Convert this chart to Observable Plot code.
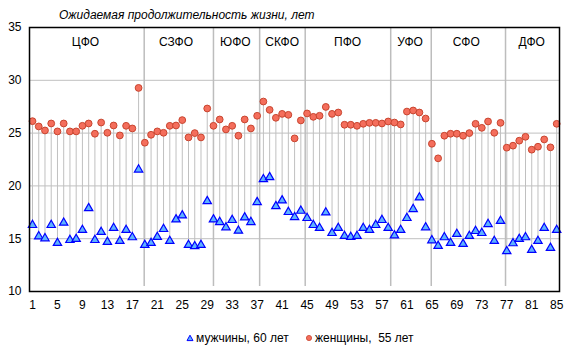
<!DOCTYPE html>
<html><head><meta charset="utf-8">
<script src="https://cdn.jsdelivr.net/npm/d3@7"></script>
<script src="https://cdn.jsdelivr.net/npm/@observablehq/plot@0.6"></script>
<style>
body{margin:0;background:#fff;font-family:"Liberation Sans",Arial,sans-serif;color:#000;}
#wrap{position:relative;width:575px;height:357px;overflow:hidden;}
#title{position:absolute;left:59px;top:8px;font-size:12px;font-style:italic;white-space:nowrap;}
#chart{position:absolute;left:0;top:0;}
.leg{position:absolute;top:331px;font-size:12px;white-space:pre;display:flex;align-items:center;}
.leg span{white-space:pre;}
.leg svg{margin-right:2px;}
</style>
</head><body>
<div id="wrap">
  <div id="chart"></div>
  <div id="title">Ожидаемая продолжительность жизни, лет</div>
  <div class="leg" id="legMen" style="left:186px"></div>
  <div class="leg" id="legWomen" style="left:305px"></div>
</div>
<script>
const regionNo = d3.range(1, 86);
const men = [16.29,15.22,15.03,16.29,14.59,16.51,14.87,14.97,15.82,17.89,
  14.87,15.63,14.69,16.01,14.78,15.82,15.13,21.54,14.40,14.59,
  15.16,15.91,14.78,16.82,17.20,14.40,14.28,14.40,18.55,16.82,
  16.57,16.07,16.76,15.75,17.01,16.57,18.46,20.63,20.82,18.08,
  18.62,17.52,17.04,17.64,16.95,16.29,16.01,17.48,15.53,16.01,
  15.25,15.16,15.25,16.01,15.82,16.29,16.76,16.01,15.31,15.82,
  16.95,17.80,18.90,16.07,14.84,14.31,15.13,14.59,15.44,14.50,
  15.25,15.72,15.53,16.38,14.78,16.67,13.81,14.56,14.97,15.13,
  13.93,14.78,16.01,14.12,15.82];
const women = [26.13,25.63,25.25,25.91,25.16,25.91,25.16,25.16,25.69,25.91,
  24.94,26.00,25.03,25.72,24.78,25.69,25.44,29.28,24.09,24.84,
  25.16,25.03,25.69,25.72,26.23,24.59,25.00,24.59,27.33,25.69,
  26.29,25.35,25.69,24.75,26.29,25.44,26.64,27.99,27.20,26.45,
  26.82,26.73,24.50,26.20,26.86,26.54,26.64,27.48,26.82,26.95,
  25.79,25.79,25.69,25.88,25.97,25.97,25.91,26.10,26.00,25.82,
  27.04,27.14,26.95,26.38,23.99,22.61,24.75,24.94,24.94,24.75,
  25.00,25.88,25.50,26.10,25.03,25.97,23.62,23.81,24.28,24.65,
  23.43,23.71,24.40,23.65,25.88];
const districts = ["ЦФО","СЗФО","ЮФО","СКФО","ПФО","УФО","СФО","ДФО"];
const districtSizes = [18,11,8,7,14,6,12,9];
const dividerAt = [18.9,30,37.4,44.7,58.4,64.9,76.8];
const xTicks = [1,5,9,13,17,21,25,29,33,37,41,45,49,53,57,61,65,69,73,77,81,85];
const yTicks = [10,15,20,25,30,35];
const seriesNames = ["мужчины, 60 лет","женщины,  55 лет"];

const rows = regionNo.map((n,i)=>({n, m: men[i], w: women[i]}));
let start = 1;
const labels = districts.map((d,i)=>{const s=start, e=start+districtSizes[i]-1; start=e+1; return {d, x:(s+e)/2};});

const chart = Plot.plot({
  width: 575, height: 320,
  marginLeft: 29, marginRight: 16, marginTop: 27, marginBottom: 29,
  style: {fontFamily: "'Liberation Sans', Arial, sans-serif", fontSize: "12px", color: "#000", background: "transparent"},
  x: {domain: [0.52, 85.45], axis: null},
  y: {domain: [10, 35], axis: null},
  marks: [
    Plot.gridY(yTicks.filter(v=>v>10 && v<35), {stroke: "#c0c0c0", strokeOpacity: 1}),
    Plot.ruleX(dividerAt, {y1: 10.47, y2: 35, stroke: "#bdbdbd", strokeWidth: 1.5}),
    Plot.ruleX(rows, {x: "n", y1: "m", y2: "w", stroke: "#c0c0c0", strokeWidth: 1}),
    Plot.dot(rows, {x: "n", y: "w", r: 3.4, fill: "#f46e5c", stroke: "#c8452f", strokeWidth: 1}),
    Plot.dot(rows, {x: "n", y: "m", symbol: "triangle", r: 3.1, fill: "#5eb2ff", stroke: "#0000ff", strokeWidth: 1.2}),
    Plot.text(labels, {x: "x", y: 33.58, text: "d", fontSize: 12, fill: "#000"}),
    Plot.axisY({ticks: yTicks, tickSize: 0, tickPadding: 8, fontSize: 12, label: null}),
    Plot.axisX({ticks: xTicks, tickSize: 0, tickPadding: 9, fontSize: 12, label: null, tickFormat: d=>String(d)}),
    Plot.frame({stroke: "#000", strokeWidth: 1.5})
  ]
});
document.getElementById("chart").appendChild(chart);

function legendItem(el, name, kind){
  const s = d3.create("svg").attr("width", 8).attr("height", 8);
  if (kind === "tri") {
    s.append("path").attr("d","M4,1.2L7,6.6L1,6.6Z").attr("fill","#5eb2ff").attr("stroke","#0000ff").attr("stroke-width",1);
  } else {
    s.append("circle").attr("cx",4).attr("cy",4).attr("r",2.6).attr("fill","#f46e5c").attr("stroke","#c8452f").attr("stroke-width",0.8);
  }
  el.appendChild(s.node());
  const t = document.createElement("span"); t.textContent = name; el.appendChild(t);
}
legendItem(document.getElementById("legMen"), seriesNames[0], "tri");
legendItem(document.getElementById("legWomen"), seriesNames[1], "dot");
</script>
</body></html>
